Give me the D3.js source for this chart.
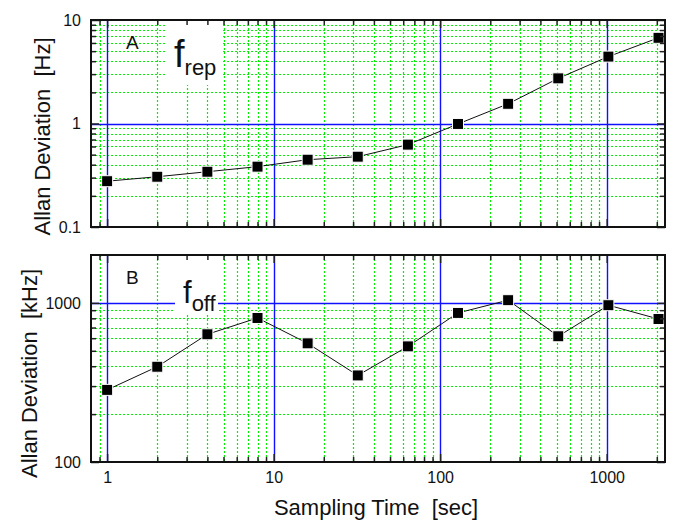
<!DOCTYPE html>
<html>
<head>
<meta charset="utf-8">
<script src="https://cdn.jsdelivr.net/npm/d3@7"></script>
<style>
  body { margin: 0; background: white; }
  svg { font-family: "Liberation Sans", Arial, sans-serif; }
</style>
</head>
<body>
<div id="viz"></div>
<script>
let w = 675;
let h = 522;

// data
let tau = [1, 2, 4, 8, 16, 32, 64, 128, 256, 512, 1024, 2048];
let adevRep = [0.277, 0.306, 0.342, 0.383, 0.447, 0.478, 0.625, 0.99, 1.55, 2.73, 4.43, 6.73];
let adevOff = [284, 397, 635, 804, 557, 350, 533, 865, 1040, 617, 967, 792];

let xMajor = [1, 10, 100, 1000];
let xMinor = [0.9, 2, 3, 4, 5, 6, 7, 8, 9, 20, 30, 40, 50, 60, 70, 80, 90,
              200, 300, 400, 500, 600, 700, 800, 900, 2000];
let yRepMajor = [0.1, 1, 10];
let yRepMinor = [0.2, 0.3, 0.4, 0.5, 0.6, 0.7, 0.8, 0.9, 2, 3, 4, 5, 6, 7, 8, 9];
let yOffMajor = [100, 1000];
let yOffMinor = [200, 300, 400, 500, 600, 700, 800, 900];

let left = 91;
let right = 665;

let viz = d3.select("#viz")
    .append("svg")
    .attr("width", w)
    .attr("height", h)
    .attr("viewBox", "0 0 " + w + " " + h)

let xScale = d3.scaleLog().domain([0.8, 2240]).range([left, right])

// snap lines onto the pixel grid
function px(v) {
    return Math.round(v) + 0.5
}

function drawPanel(p) {
    let yScale = d3.scaleLog().domain(p.yDomain).range([p.bottom, p.top])
    let g = viz.append("g")

    // green dotted minor grid
    g.selectAll(".vminor").data(xMinor).enter()
        .append("line")
        .attr("class", "vminor")
        .attr("x1", d => px(xScale(d)))
        .attr("x2", d => px(xScale(d)))
        .attr("y1", p.top)
        .attr("y2", p.bottom)
        .attr("stroke", "#00f000")
        .attr("stroke-width", 1.2)
        .attr("stroke-dasharray", "2,2")

    g.selectAll(".hminor").data(p.yMinor).enter()
        .append("line")
        .attr("class", "hminor")
        .attr("x1", left)
        .attr("x2", right)
        .attr("y1", d => px(yScale(d)))
        .attr("y2", d => px(yScale(d)))
        .attr("stroke", "#00f000")
        .attr("stroke-width", 1.2)
        .attr("stroke-dasharray", "2,2")

    // blue major grid
    g.selectAll(".vmajor").data(xMajor).enter()
        .append("line")
        .attr("class", "vmajor")
        .attr("x1", d => px(xScale(d)))
        .attr("x2", d => px(xScale(d)))
        .attr("y1", p.top)
        .attr("y2", p.bottom)
        .attr("stroke", "#1010ff")
        .attr("stroke-width", 1.4)

    g.selectAll(".hmajor").data(p.yBlue).enter()
        .append("line")
        .attr("class", "hmajor")
        .attr("x1", left)
        .attr("x2", right)
        .attr("y1", d => px(yScale(d)))
        .attr("y2", d => px(yScale(d)))
        .attr("stroke", "#1010ff")
        .attr("stroke-width", 1.4)

    // white box behind the big label
    g.append("rect")
        .attr("x", p.box[0])
        .attr("y", p.top + 1)
        .attr("width", p.box[1] - p.box[0])
        .attr("height", p.box[2] - p.top - 1)
        .attr("fill", "white")

    g.append("text")
        .attr("x", 126)
        .attr("y", p.top + 29)
        .attr("font-size", 19)
        .attr("fill", "#111")
        .text(p.letter)

    let lab = g.append("text")
        .attr("x", p.box[0] + 8)
        .attr("y", p.fy)
        .attr("font-size", p.fsize)
        .attr("fill", "#111")
        .text("f")
    lab.append("tspan")
        .attr("font-size", 22)
        .attr("dy", 8)
        .text(p.sub)

    // data
    let line = d3.line()
        .x((d, i) => xScale(tau[i]))
        .y(d => yScale(d))

    g.append("path")
        .datum(p.values)
        .attr("d", line)
        .attr("fill", "none")
        .attr("stroke", "#111")
        .attr("stroke-width", 1)

    g.selectAll(".pt").data(p.values).enter()
        .append("rect")
        .attr("class", "pt")
        .attr("x", (d, i) => xScale(tau[i]) - 5.5)
        .attr("y", d => yScale(d) - 5.5)
        .attr("width", 11)
        .attr("height", 11)
        .attr("fill", "black")
        .attr("stroke", "white")
        .attr("stroke-width", 1)

    // inward ticks on all four sides
    let sides = [
        [d3.axisBottom, xScale, "translate(0," + p.bottom + ")", xMajor, xMinor, p.xLabels],
        [d3.axisTop, xScale, "translate(0," + p.top + ")", xMajor, xMinor, false],
        [d3.axisLeft, yScale, "translate(" + left + ",0)", p.yMajor, p.yMinor, true],
        [d3.axisRight, yScale, "translate(" + right + ",0)", p.yMajor, p.yMinor, false]
    ]
    sides.forEach(function (s) {
        let majorAxis = s[0](s[1])
            .tickValues(s[3])
            .tickSize(-8)
            .tickPadding(10)
            .tickFormat(s[5] ? d3.format("") : () => "")
        let gm = g.append("g")
            .attr("transform", s[2])
            .call(majorAxis)
        gm.select(".domain").remove()
        gm.selectAll("line").attr("stroke", "#222").attr("stroke-width", 1.5)
        gm.selectAll("text")
            .attr("font-size", 16)
            .attr("fill", "#111")
            .attr("font-family", "Liberation Sans, Arial, sans-serif")

        let minorAxis = s[0](s[1])
            .tickValues(s[4])
            .tickSize(-5)
            .tickFormat(() => "")
        let gn = g.append("g")
            .attr("transform", s[2])
            .call(minorAxis)
        gn.select(".domain").remove()
        gn.selectAll("line").attr("stroke", "#222").attr("stroke-width", 1.5)
    })

    g.append("rect")
        .attr("x", left)
        .attr("y", p.top)
        .attr("width", right - left)
        .attr("height", p.bottom - p.top)
        .attr("fill", "none")
        .attr("stroke", "#111")
        .attr("stroke-width", 2)

    g.append("text")
        .attr("transform", "translate(" + p.titleX + "," + ((p.top + p.bottom) / 2 + p.titleDy) + ") rotate(-90)")
        .attr("text-anchor", "middle")
        .attr("font-size", 22)
        .attr("fill", "#111")
        .style("white-space", "pre")
        .text(p.title)
}

drawPanel({
    top: 20, bottom: 227,
    yDomain: [0.1, 10],
    yMajor: yRepMajor, yMinor: yRepMinor, yBlue: [1],
    values: adevRep,
    letter: "A", sub: "rep", fsize: 38, fy: 67,
    box: [166, 223, 85],
    xLabels: false,
    title: "Allan Deviation  [Hz]", titleX: 50, titleDy: 13
})

drawPanel({
    top: 255, bottom: 462,
    yDomain: [100, 2000],
    yMajor: yOffMajor, yMinor: yOffMinor, yBlue: [1000],
    values: adevOff,
    letter: "B", sub: "off", fsize: 31, fy: 303,
    box: [175, 218, 313],
    xLabels: true,
    title: "Allan Deviation  [kHz]", titleX: 37, titleDy: 15
})

viz.append("text")
    .attr("x", 376)
    .attr("y", 515)
    .attr("text-anchor", "middle")
    .attr("font-size", 22)
    .attr("fill", "#111")
    .style("white-space", "pre")
    .text("Sampling Time  [sec]")
</script>
</body>
</html>
